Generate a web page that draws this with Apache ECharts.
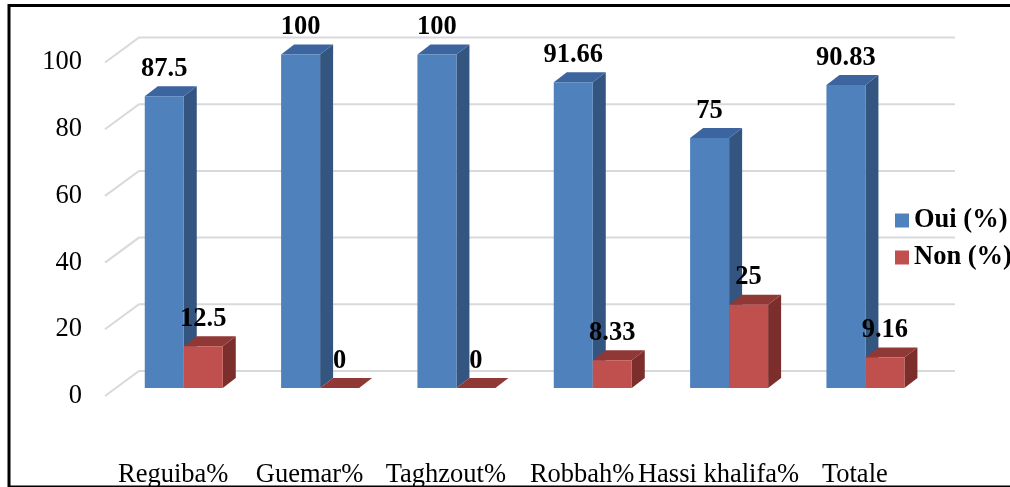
<!DOCTYPE html>
<html>
<head>
<meta charset="utf-8">
<script src="https://cdn.jsdelivr.net/npm/echarts@6/dist/echarts.min.js"></script>
<style>
  html, body { margin: 0; padding: 0; background: #fff; }
  #chart { width: 1010px; height: 487px; }
</style>
</head>
<body>
<div id="chart"></div>
<script>
const categories = ['Reguiba%', 'Guemar%', 'Taghzout%', 'Robbah%', 'Hassi khalifa%', 'Totale'];
const ouiValues = [87.5, 100, 100, 91.66, 75, 90.83];
const nonValues = [12.5, 0, 0, 8.33, 25, 9.16];
const yTicks = [0, 20, 40, 60, 80, 100];

const FONT = '"Liberation Serif", "Times New Roman", serif';
// oblique projection offsets (pixels)
const WALL_DX = 34, WALL_DY = -25;   // floor front -> back wall
const BAR_DX = 10.6, BAR_DY = -8;    // floor front -> bar front plane
const SIDE_DX = 13, SIDE_DY = -10;   // bar depth
const BAR_W = 39;

const chart = echarts.init(document.getElementById('chart'));

function wallItem(params, api) {
  const cs = params.coordSys;
  const p = api.coord([0, api.value(1)]);
  const y = p[1];
  return {
    type: 'polyline',
    shape: { points: [[cs.x, y], [cs.x + WALL_DX, y + WALL_DY], [cs.x + cs.width + 32, y + WALL_DY]] },
    style: { stroke: '#d9d9d9', lineWidth: 2, fill: null }
  };
}

function barItem(side, colors) {
  return function (params, api) {
    const i = api.value(0);
    const v = api.value(1);
    const base = api.coord([i, 0]);
    const top = api.coord([i, v]);
    const cx = base[0] + BAR_DX;
    const by = base[1] + BAR_DY;
    const h = base[1] - top[1];
    const x0 = side === 0 ? cx - BAR_W : cx;
    const x1 = x0 + BAR_W;
    const ty = by - h;
    return {
      type: 'group',
      children: [
        {
          type: 'polygon',
          shape: { points: [[x1, ty], [x1 + SIDE_DX, ty + SIDE_DY], [x1 + SIDE_DX, by + SIDE_DY], [x1, by]] },
          style: { fill: colors.side }
        },
        {
          type: 'polygon',
          shape: { points: [[x0, ty], [x0 + SIDE_DX, ty + SIDE_DY], [x1 + SIDE_DX, ty + SIDE_DY], [x1, ty]] },
          style: { fill: colors.top }
        },
        {
          type: 'rect',
          shape: { x: x0, y: ty, width: BAR_W, height: h },
          style: { fill: colors.front }
        },
        {
          type: 'text',
          style: {
            text: String(v), x: (x0 + x1) / 2, y: ty - 27,
            align: 'center', verticalAlign: 'middle',
            font: 'bold 26.5px ' + FONT, fill: '#000'
          }
        }
      ]
    };
  };
}

const option = {
  animation: false,
  backgroundColor: '#fff',
  grid: { left: 105, right: 87, top: 62.5, bottom: 91, outerBoundsMode: 'none' },
  xAxis: {
    type: 'category',
    data: categories,
    axisLine: { show: false },
    axisTick: { show: false },
    axisLabel: { color: '#000', fontFamily: FONT, fontSize: 26.5, margin: 66, interval: 0 }
  },
  yAxis: {
    type: 'value',
    min: 0, max: 100, interval: 20,
    axisLine: { show: false },
    axisTick: { show: false },
    splitLine: { show: false },
    axisLabel: { color: '#000', fontFamily: FONT, fontSize: 26.5, margin: 23 }
  },
  legend: {
    data: ['Oui (%)', 'Non (%)'],
    orient: 'vertical',
    left: 890, top: 202,
    icon: 'rect', itemWidth: 14, itemHeight: 14, itemGap: 10,
    textStyle: { color: '#000', fontFamily: FONT, fontSize: 26.5, fontWeight: 'bold' }
  },
  graphic: [{
    type: 'rect', silent: true, z: 100,
    shape: { x: 9, y: 5.5, width: 1005, height: 481.5 },
    style: { fill: null, stroke: '#000', lineWidth: 3 }
  }],
  series: [
    {
      type: 'custom', name: 'walls', z: 1, silent: true,
      renderItem: wallItem,
      data: yTicks.map(t => [0, t])
    },
    {
      type: 'custom', name: 'Oui (%)', z: 2,
      itemStyle: { color: '#4F81BD' },
      renderItem: barItem(0, { front: '#4F81BD', side: '#34557f', top: '#3c65a0' }),
      data: ouiValues.map((v, i) => [i, v])
    },
    {
      type: 'custom', name: 'Non (%)', z: 3,
      itemStyle: { color: '#C0504D' },
      renderItem: barItem(1, { front: '#C0504D', side: '#7b2e2c', top: '#8f3836' }),
      data: nonValues.map((v, i) => [i, v])
    }
  ]
};

chart.setOption(option);
</script>
</body>
</html>
